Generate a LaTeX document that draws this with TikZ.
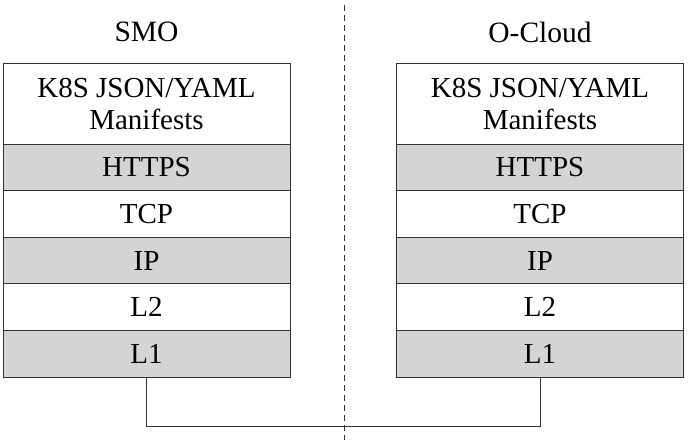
\documentclass[tikz,border=0pt]{standalone}
\usepackage{fontspec}
\setmainfont{Liberation Serif}
\tikzstyle{layer}=[draw=black!80, line width=1pt, minimum width=287pt, minimum height=46.6pt, inner sep=0pt, align=center, font=\fontsize{29}{32}\selectfont]
\tikzstyle{shaded}=[fill=black!17]
\tikzstyle{title}=[font=\fontsize{29.5}{32}\selectfont]

\begin{document}
\begin{tikzpicture}[x=1pt, y=1pt]
\useasboundingbox (0,0) rectangle (688,-440);
\node[title] (SMO) at (146.5,-32) {SMO};
\node[title] (OC) at (540,-32) {O-Cloud};
\node[layer, minimum height=81pt] at (146.5,-103.5) (SmoApp) {K8S JSON/YAML\\Manifests};
\node[layer, shaded] at (146.5,-167.3) (SmoHttps) {HTTPS};
\node[layer] at (146.5,-213.9) (SmoTcp) {TCP};
\node[layer, shaded] at (146.5,-260.5) (SmoIp) {IP};
\node[layer] at (146.5,-307.1) (SmoL2) {L2};
\node[layer, shaded] at (146.5,-353.7) (SmoL1) {L1};
\node[layer, minimum height=81pt] at (540,-103.5) (OcApp) {K8S JSON/YAML\\Manifests};
\node[layer, shaded] at (540,-167.3) (OcHttps) {HTTPS};
\node[layer] at (540,-213.9) (OcTcp) {TCP};
\node[layer, shaded] at (540,-260.5) (OcIp) {IP};
\node[layer] at (540,-307.1) (OcL2) {L2};
\node[layer, shaded] at (540,-353.7) (OcL1) {L1};
\coordinate (DivTop) at (344,-5);
\coordinate (DivBot) at (344,-440);
\coordinate (Bus) at (344,-426.5);
\draw[black!80, line width=0.7pt, dash pattern=on 6pt off 4pt] (DivTop) -- (DivBot);
\draw[black!80, line width=1pt] (SmoL1.south) |- (Bus) -| (OcL1.south);
\end{tikzpicture}
\end{document}
